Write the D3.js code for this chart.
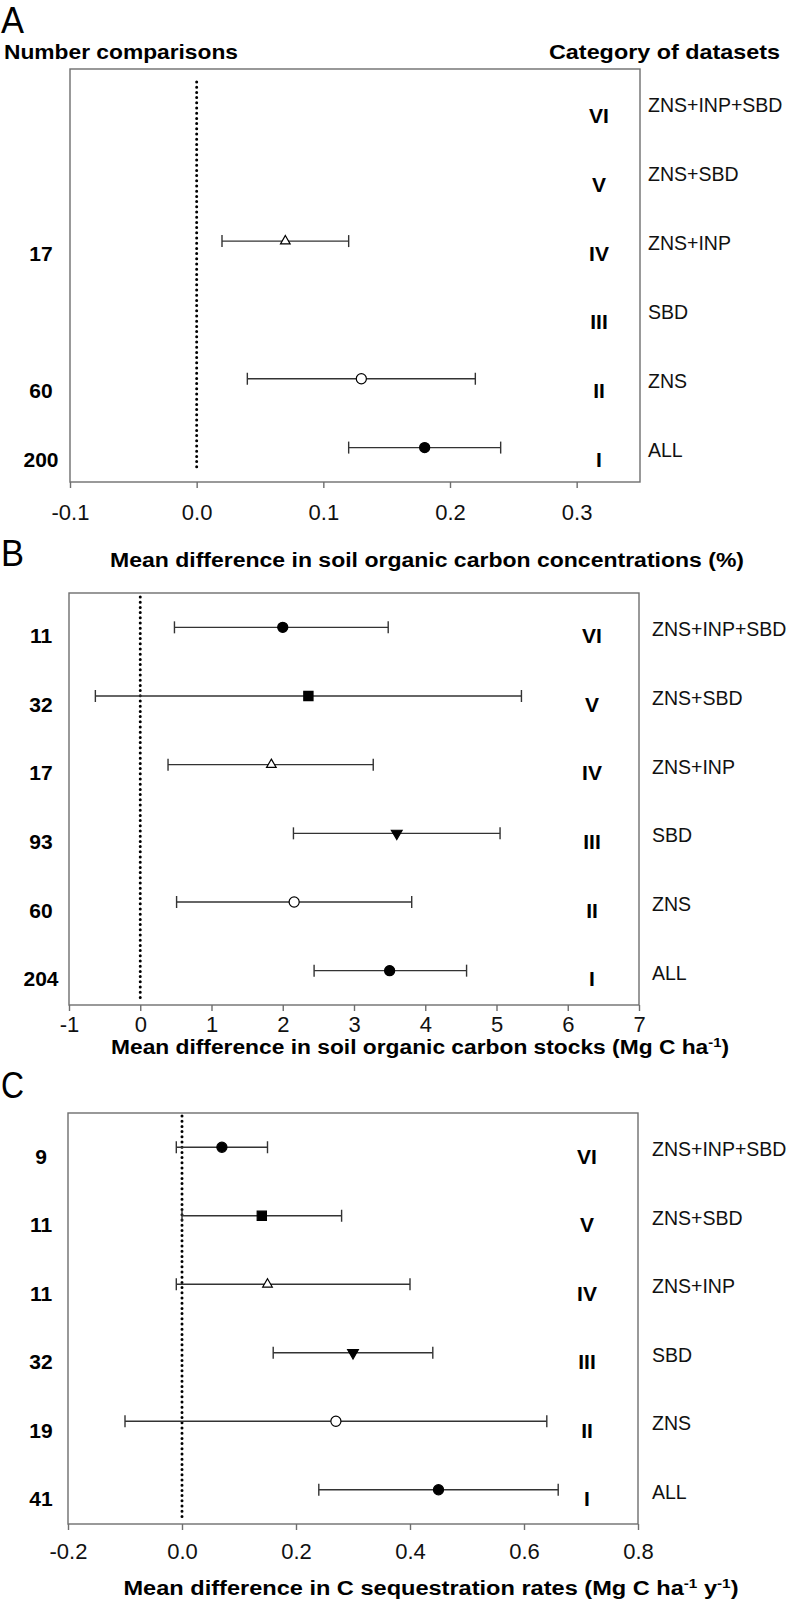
<!DOCTYPE html>
<html><head><meta charset="utf-8">
<script src="https://cdn.jsdelivr.net/npm/d3@7"></script>
<style>
body{margin:0;background:#fff;}
text{font-family:"Liberation Sans",Arial,sans-serif;}
</style></head>
<body><svg id="chart" width="796" height="1605"></svg>
<script>
// ---- data ----
const categories = ["I","II","III","IV","V","VI"];
const datasetLabels = ["ALL","ZNS","SBD","ZNS+INP","ZNS+SBD","ZNS+INP+SBD"];

const nA    = [200, 60, null, 17, null, null];
const meanA = [0.18, 0.13, null, 0.07, null, null];
const lowA  = [0.12, 0.04, null, 0.02, null, null];
const highA = [0.24, 0.22, null, 0.12, null, null];
const ticksA = [-0.1, 0.0, 0.1, 0.2, 0.3];

const nB    = [204, 60, 93, 17, 32, 11];
const meanB = [3.50, 2.16, 3.60, 1.84, 2.36, 2.00];
const lowB  = [2.44, 0.51, 2.15, 0.39, -0.63, 0.48];
const highB = [4.58, 3.81, 5.05, 3.27, 5.35, 3.48];
const ticksB = [-1, 0, 1, 2, 3, 4, 5, 6, 7];

const nC    = [41, 19, 32, 11, 11, 9];
const meanC = [0.45, 0.27, 0.30, 0.15, 0.14, 0.07];
const lowC  = [0.24, -0.10, 0.16, -0.01, 0.00, -0.01];
const highC = [0.66, 0.64, 0.44, 0.40, 0.28, 0.15];
const ticksC = [-0.2, 0.0, 0.2, 0.4, 0.6, 0.8];

// ---- styles (marker per category) ----
const markerStyle = {
  "I":  {type: d3.symbolCircle,   size: 80, fill: "#000", rot: 0},
  "II": {type: d3.symbolCircle,   size: 80, fill: "#fff", rot: 0},
  "III":{type: d3.symbolTriangle, size: 50, fill: "#000", rot: 180},
  "IV": {type: d3.symbolTriangle, size: 40, fill: "#fff", rot: 0},
  "V":  {type: d3.symbolSquare,   size: 85, fill: "#000", rot: 0},
  "VI": {type: d3.symbolCircle,   size: 80, fill: "#000", rot: 0}
};

const hyph = f => (d => f(d).replace("\u2212","-"));

const panels = [
  {letter:"A", n:nA, mean:meanA, low:lowA, high:highA, ticks:ticksA, domain:[-0.1,0.35], fmt:hyph(d3.format(".1f")),
   left:70, right:640, top:69, bottom:482, dotInset:[13,13], romanX:599, catX:648, labOff:12, titleX:427, titleY:567, tickY:520,
   letterY:33, title:[["Mean difference in soil organic carbon concentrations (%)",""]], titleLen:634},
  {letter:"B", n:nB, mean:meanB, low:lowB, high:highB, ticks:ticksB, domain:[-1,7], fmt:hyph(d3.format("d")),
   left:69, right:639, top:593, bottom:1005, dotInset:[4,5], romanX:592, catX:652, labOff:8, titleX:420, titleY:1054, tickY:1032,
   letterY:566, title:[["Mean difference in soil organic carbon stocks (Mg C ha",""],["-1","sup"],[")",""]], titleLen:618},
  {letter:"C", n:nC, mean:meanC, low:lowC, high:highC, ticks:ticksC, domain:[-0.2,0.8], fmt:hyph(d3.format(".1f")),
   left:68, right:638, top:1113, bottom:1524, dotInset:[3,6], romanX:587, catX:652, labOff:9, titleX:431, titleY:1595, tickY:1559,
   letterY:1098, title:[["Mean difference in C sequestration rates (Mg C ha",""],["-1","sup"],[" y",""],["-1","sup"],[")",""]], titleLen:615}
];

const svg = d3.select("#chart");
const frameColor = "#6e6e6e";

// headers
svg.append("text").attr("x",4).attr("y",59).attr("font-size",21).attr("font-weight","bold")
   .attr("textLength",234).attr("lengthAdjust","spacingAndGlyphs").text("Number comparisons");
svg.append("text").attr("x",549).attr("y",59).attr("font-size",21).attr("font-weight","bold")
   .attr("textLength",231).attr("lengthAdjust","spacingAndGlyphs").text("Category of datasets");

panels.forEach(p => {
  const g = svg.append("g");
  const x = d3.scaleLinear().domain(p.domain).range([p.left, p.right]);
  const y = d3.scalePoint().domain(categories.slice().reverse()).range([p.top, p.bottom]).padding(0.5);

  // panel letter
  g.append("text").attr("x",1).attr("y",p.letterY).attr("font-size",37)
   .attr("textLength",23).attr("lengthAdjust","spacingAndGlyphs").text(p.letter);

  // frame
  g.append("rect").attr("x",p.left).attr("y",p.top).attr("width",p.right-p.left).attr("height",p.bottom-p.top)
   .attr("fill","none").attr("stroke",frameColor).attr("stroke-width",1.4);

  // x axis
  const ax = g.append("g").attr("transform",`translate(0,${p.bottom})`)
    .call(d3.axisBottom(x).tickValues(p.ticks).tickFormat(p.fmt).tickSize(6).tickPadding(0));
  ax.select(".domain").remove();
  ax.selectAll(".tick line").attr("stroke",frameColor).attr("stroke-width",1.4);
  ax.selectAll(".tick text").attr("y",p.tickY - p.bottom).attr("dy",0).attr("font-size",22)
    .attr("font-family","Liberation Sans, Arial, sans-serif").attr("fill","#111");

  // zero dotted line
  g.append("line").attr("x1",x(0)).attr("x2",x(0)).attr("y1",p.top+p.dotInset[0]).attr("y2",p.bottom-p.dotInset[1])
   .attr("stroke","#000").attr("stroke-width",3).attr("stroke-linecap","round").attr("stroke-dasharray","0 5.2");

  // rows
  categories.forEach((c,i) => {
    const yy = y(c);
    g.append("text").attr("x",p.romanX).attr("y",yy+p.labOff).attr("dominant-baseline","central")
      .attr("text-anchor","middle").attr("font-size",21).attr("font-weight","bold").text(c);
    g.append("text").attr("x",p.catX).attr("y",yy+2).attr("dominant-baseline","central")
      .attr("font-size",19.5).attr("fill","#111").text(datasetLabels[i]);
    if (p.n[i] != null) {
      g.append("text").attr("x",41).attr("y",yy+p.labOff).attr("dominant-baseline","central")
        .attr("text-anchor","middle").attr("font-size",21).attr("font-weight","bold").text(p.n[i]);
    }
    if (p.mean[i] != null) {
      const lo = x(p.low[i]), hi = x(p.high[i]);
      g.append("line").attr("x1",lo).attr("x2",hi).attr("y1",yy).attr("y2",yy).attr("stroke","#333").attr("stroke-width",1.4);
      [lo,hi].forEach(xx => g.append("line").attr("x1",xx).attr("x2",xx).attr("y1",yy-6).attr("y2",yy+6)
        .attr("stroke","#333").attr("stroke-width",1.4));
      const m = markerStyle[c];
      g.append("path").attr("d",d3.symbol().type(m.type).size(m.size)())
        .attr("transform",`translate(${x(p.mean[i])},${yy}) rotate(${m.rot})`)
        .attr("fill",m.fill).attr("stroke","#000").attr("stroke-width",1.2);
    }
  });

  // axis title
  const t = g.append("text").attr("x",p.titleX).attr("y",p.titleY).attr("text-anchor","middle")
    .attr("font-size",20).attr("font-weight","bold")
    .attr("textLength",p.titleLen).attr("lengthAdjust","spacingAndGlyphs");
  p.title.forEach(([s,kind]) => {
    const ts = t.append("tspan").text(s);
    if (kind === "sup") ts.attr("font-size",13).attr("baseline-shift","super");
  });
});
</script></body></html>
